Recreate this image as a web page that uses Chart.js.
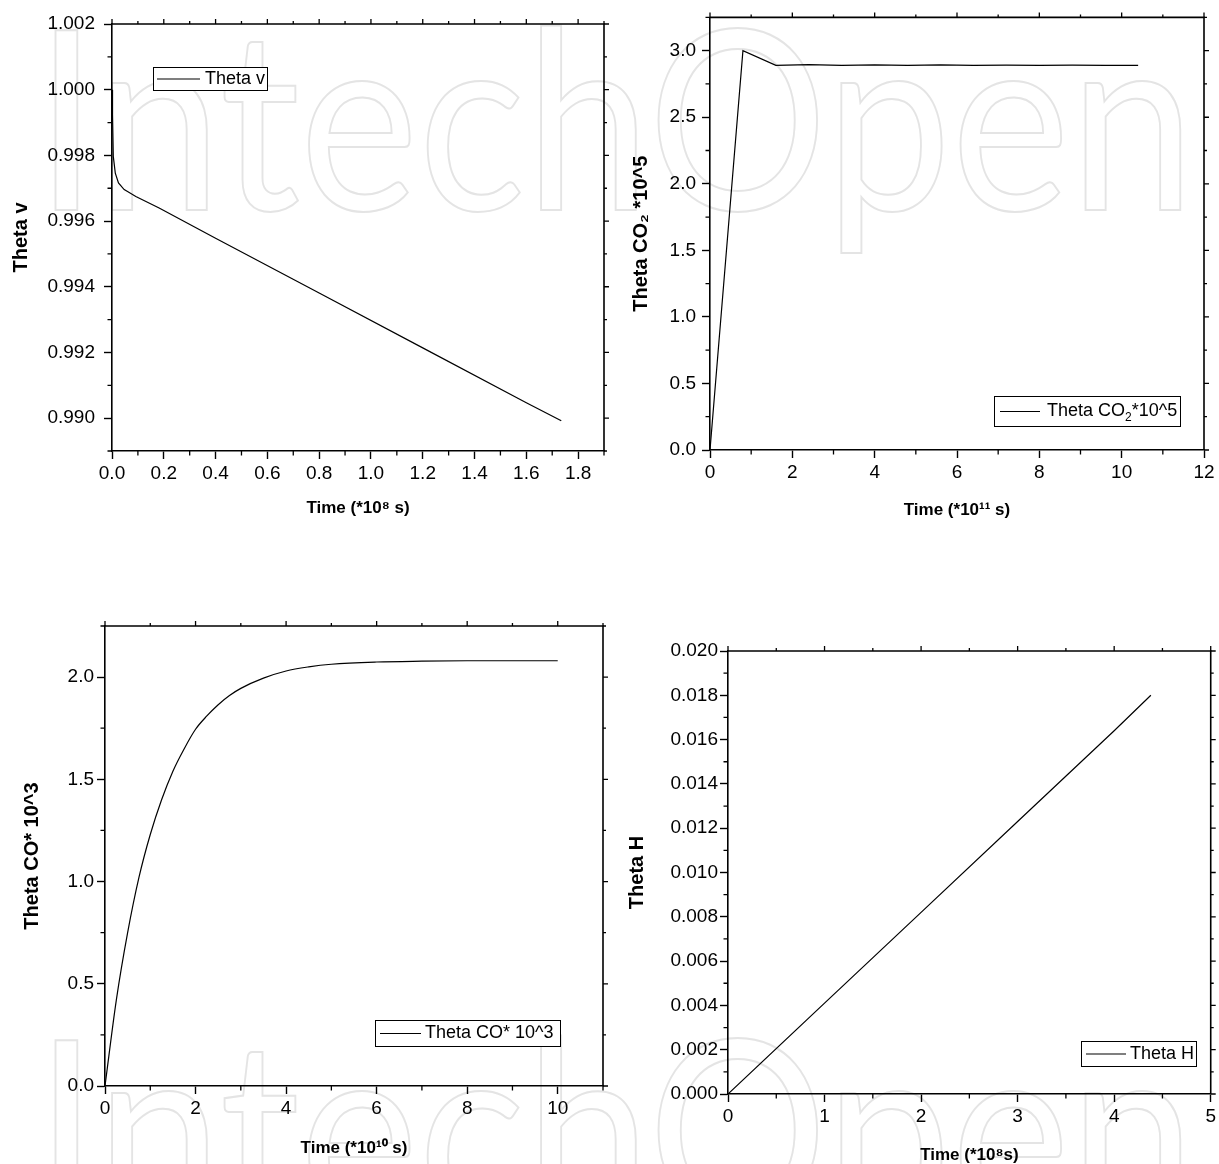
<!DOCTYPE html>
<html><head><meta charset="utf-8">
<script src="https://cdn.jsdelivr.net/npm/chart.js@4.4.1/dist/chart.umd.min.js"></script>
<style>
html,body{margin:0;padding:0;background:#fff;overflow:hidden;width:1219px;height:1164px;position:relative;}
.wrap{position:absolute;}
#wm{position:absolute;left:0;top:0;}
</style></head><body>
<svg id="wm" width="1219" height="1164" aria-hidden="true">
 <g fill="none" stroke="#e4e4e4" stroke-width="2" font-family="Lato, 'Open Sans', sans-serif" font-weight="400" font-size="250">
  <text x="35" y="210" textLength="1160" lengthAdjust="spacingAndGlyphs">IntechOpen</text>
  <text x="35" y="1220" textLength="1160" lengthAdjust="spacingAndGlyphs">IntechOpen</text>
 </g>
</svg>
<div class="wrap" style="left:0;top:0;width:620px;height:540px"><canvas id="c1"></canvas></div>
<div class="wrap" style="left:620px;top:0;width:599px;height:540px"><canvas id="c2"></canvas></div>
<div class="wrap" style="left:0;top:580px;width:620px;height:584px"><canvas id="c3"></canvas></div>
<div class="wrap" style="left:620px;top:600px;width:599px;height:580px"><canvas id="c4"></canvas></div>
<script>
// ---------- DATA ----------
// Panel 1: Theta v
const P1_X = [0, 0.002, 0.005, 0.0127, 0.025, 0.047, 0.06, 0.092, 0.182, 0.4, 0.8, 1.2, 1.6, 1.735];
const P1_Y = [1.0, 0.99924, 0.99797, 0.99746, 0.99716, 0.99696, 0.99690, 0.99675, 0.99640, 0.99548, 0.99381, 0.99214, 0.99047, 0.98992];
const P1_XTICKS = [0, 0.2, 0.4, 0.6, 0.8, 1.0, 1.2, 1.4, 1.6, 1.8];
const P1_XMINOR = [0.1, 0.3, 0.5, 0.7, 0.9, 1.1, 1.3, 1.5, 1.7, 1.9];
const P1_YTICKS = [0.990, 0.992, 0.994, 0.996, 0.998, 1.000, 1.002];
const P1_YMINOR = [0.989, 0.991, 0.993, 0.995, 0.997, 0.999, 1.001];

// Panel 2: Theta CO2 * 10^5
const P2_X = [0, 0.8, 1.6, 2.4, 3.2, 4.0, 4.8, 5.6, 6.4, 7.2, 8.0, 8.8, 9.6, 10.4];
const P2_Y = [0, 3.0, 2.89, 2.895, 2.89, 2.893, 2.89, 2.893, 2.89, 2.892, 2.89, 2.892, 2.89, 2.89];
const P2_XTICKS = [0, 2, 4, 6, 8, 10, 12];
const P2_XMINOR = [1, 3, 5, 7, 9, 11];
const P2_YTICKS = [0, 0.5, 1.0, 1.5, 2.0, 2.5, 3.0];
const P2_YMINOR = [0.25, 0.75, 1.25, 1.75, 2.25, 2.75, 3.25];

// Panel 3: Theta CO * 10^3
const P3_X = [0, 0.25, 0.5, 0.75, 1.0, 1.25, 1.5, 1.75, 2.0, 2.25, 2.5, 2.75, 3.0, 3.5, 4.0, 4.5, 5.0, 6.0, 7.0, 8.0, 9.0, 10.0];
const P3_Y = [0, 0.42, 0.75, 1.02, 1.23, 1.40, 1.54, 1.65, 1.745, 1.81, 1.865, 1.91, 1.945, 1.995, 2.03, 2.05, 2.063, 2.074, 2.078, 2.08, 2.08, 2.08];
const P3_XTICKS = [0, 2, 4, 6, 8, 10];
const P3_XMINOR = [1, 3, 5, 7, 9, 11];
const P3_YTICKS = [0, 0.5, 1.0, 1.5, 2.0];
const P3_YMINOR = [0.25, 0.75, 1.25, 1.75, 2.25];

// Panel 4: Theta H
const P4_X = [0, 1, 2, 3, 4, 4.38];
const P4_Y = [0, 0.0041, 0.0082, 0.0123, 0.0164, 0.018];
const P4_XTICKS = [0, 1, 2, 3, 4, 5];
const P4_XMINOR = [0.5, 1.5, 2.5, 3.5, 4.5];
const P4_YTICKS = [0, 0.002, 0.004, 0.006, 0.008, 0.010, 0.012, 0.014, 0.016, 0.018, 0.020];
const P4_YMINOR = [0.001, 0.003, 0.005, 0.007, 0.009, 0.011, 0.013, 0.015, 0.017, 0.019];

// ---------- RENDERING ----------
const TICK_FONT = { family: '"Liberation Sans", Arial, sans-serif', size: 19 };
const XT_FONT = { family: '"Liberation Sans", Arial, sans-serif', size: 17, weight: 'bold' };
const LEG_FONT = '18px "Liberation Sans", Arial, sans-serif';

function makeFrame(cfg) {
  return {
    id: 'frame',
    afterDraw(chart) {
      const { ctx, chartArea: a, scales: { x, y } } = chart;
      ctx.save();
      ctx.strokeStyle = '#000';
      ctx.lineWidth = 1.6;
      ctx.beginPath();
      ctx.moveTo(a.left, a.top); ctx.lineTo(a.right, a.top); ctx.lineTo(a.right, a.bottom);
      ctx.stroke();
      ctx.lineWidth = 1.3;
      ctx.beginPath();
      const seg = (x1, y1, x2, y2) => { ctx.moveTo(x1, y1); ctx.lineTo(x2, y2); };
      cfg.xMinor.forEach(v => { const p = x.getPixelForValue(v); seg(p, a.bottom, p, a.bottom + 4.5); seg(p, a.top, p, a.top - 3); });
      cfg.xMajor.forEach(v => { const p = x.getPixelForValue(v); seg(p, a.top, p, a.top - 5); });
      cfg.yMinor.forEach(v => { const p = y.getPixelForValue(v); seg(a.left, p, a.left - 4.5, p); seg(a.right, p, a.right + 3, p); });
      cfg.yMajor.forEach(v => { const p = y.getPixelForValue(v); seg(a.right, p, a.right + 5, p); });
      ctx.stroke();
      // legend
      const L = cfg.legend, ox = cfg.left, oy = cfg.top;
      const bx = L.box[0] - ox, by = L.box[1] - oy, bw = L.box[2] - L.box[0], bh = L.box[3] - L.box[1];
      ctx.fillStyle = '#fff';
      ctx.fillRect(bx, by, bw, bh);
      ctx.lineWidth = 1;
      ctx.strokeRect(bx + 0.5, by + 0.5, bw, bh);
      const cy = by + bh / 2 + 0.5;
      ctx.lineWidth = 1.2;
      ctx.beginPath(); ctx.moveTo(L.line[0] - ox, cy); ctx.lineTo(L.line[1] - ox, cy); ctx.stroke();
      ctx.fillStyle = '#000';
      ctx.textBaseline = 'middle';
      ctx.textAlign = 'left';
      let tx = L.textX - ox;
      L.parts.forEach(pt => {
        if (pt.sub) {
          ctx.font = '12px "Liberation Sans", Arial, sans-serif';
          ctx.fillText(pt.t, tx, cy + 6);
        } else {
          ctx.font = LEG_FONT;
          ctx.fillText(pt.t, tx, cy);
        }
        tx += ctx.measureText(pt.t).width;
      });
      ctx.restore();
    }
  };
}

function makeChart(id, cfg) {
  const ds = cfg.xs.map((xv, i) => ({ x: xv, y: cfg.ys[i] }));
  new Chart(document.getElementById(id), {
    type: 'line',
    data: { datasets: [{ data: ds, borderColor: '#000', borderWidth: 1.2, pointRadius: 0, fill: false,
      tension: 0, cubicInterpolationMode: cfg.smooth ? 'monotone' : 'default' }] },
    options: {
      responsive: true, maintainAspectRatio: false, animation: false, events: [],
      layout: { padding: { left: 0, top: cfg.padTop, right: cfg.padRight, bottom: 0 } },
      plugins: { legend: { display: false }, tooltip: { enabled: false } },
      scales: {
        x: {
          type: 'linear', min: cfg.xMin, max: cfg.xMax,
          afterBuildTicks: s => { s.ticks = cfg.xMajor.map(v => ({ value: v })); },
          afterFit: s => { s.height = cfg.xH; },
          ticks: { callback: v => Number(v).toFixed(cfg.xDec), color: '#000', font: TICK_FONT, padding: 3, maxRotation: 0, autoSkip: false },
          grid: { drawOnChartArea: false, drawTicks: true, tickLength: 8, tickWidth: 1.4, tickColor: '#000' },
          border: { display: true, color: '#000', width: 1.6 },
          title: { display: true, text: cfg.xTitle, color: '#000', font: XT_FONT, padding: { top: 0, bottom: cfg.xTitlePad } }
        },
        y: {
          type: 'linear', min: cfg.yMin, max: cfg.yMax,
          afterBuildTicks: s => { s.ticks = cfg.yMajor.map(v => ({ value: v })); },
          afterFit: s => { s.width = cfg.yW; },
          ticks: { callback: v => Number(v).toFixed(cfg.yDec), color: '#000', font: TICK_FONT, padding: cfg.yPad, autoSkip: false },
          grid: { drawOnChartArea: false, drawTicks: true, tickLength: 8, tickWidth: 1.4, tickColor: '#000' },
          border: { display: true, color: '#000', width: 1.6 },
          title: { display: true, text: cfg.yTitle, color: '#000',
            font: { family: '"Liberation Sans", Arial, sans-serif', size: 20, weight: 'bold' },
            padding: { top: cfg.yTitlePad, bottom: 0 } }
        }
      }
    },
    plugins: [makeFrame(cfg)]
  });
}

makeChart('c1', {
  left: 0, top: 0, xs: P1_X, ys: P1_Y,
  xMin: 0, xMax: 1.9, yMin: 0.989, yMax: 1.002,
  xMajor: P1_XTICKS, xMinor: P1_XMINOR, yMajor: P1_YTICKS, yMinor: P1_YMINOR,
  xDec: 1, yDec: 3, padTop: 24, padRight: 16, xH: 89, yW: 112, yPad: 9,
  xTitle: 'Time (*10\u2078 s)', xTitlePad: 21, yTitle: 'Theta v', yTitlePad: 9,
  legend: { box: [153, 67, 267, 90], line: [157, 200], textX: 205, parts: [{ t: 'Theta v' }] }
});
makeChart('c2', {
  left: 620, top: 0, xs: P2_X, ys: P2_Y,
  xMin: 0, xMax: 12, yMin: 0, yMax: 3.25,
  xMajor: P2_XTICKS, xMinor: P2_XMINOR, yMajor: P2_YTICKS, yMinor: P2_YMINOR,
  xDec: 0, yDec: 1, padTop: 15, padRight: 15, xH: 90, yW: 90, yPad: 6,
  xTitle: 'Time (*10\u00B9\u00B9 s)', xTitlePad: 19, yTitle: 'Theta CO\u2082 *10^5', yTitlePad: 9,
  legend: { box: [994, 396, 1180, 426], line: [1000, 1040], textX: 1047, parts: [{ t: 'Theta CO' }, { t: '2', sub: true }, { t: '*10^5' }] }
});
makeChart('c3', {
  left: 0, top: 580, xs: P3_X, ys: P3_Y, smooth: true,
  xMin: 0, xMax: 11, yMin: 0, yMax: 2.25,
  xMajor: P3_XTICKS, xMinor: P3_XMINOR, yMajor: P3_YTICKS, yMinor: P3_YMINOR,
  xDec: 0, yDec: 1, padTop: 46, padRight: 17, xH: 78, yW: 105, yPad: 3,
  xTitle: 'Time (*10\u00B9\u2070 s)', xTitlePad: 5, yTitle: 'Theta CO* 10^3', yTitlePad: 20,
  legend: { box: [375, 1020, 560, 1046], line: [380, 421], textX: 425, parts: [{ t: 'Theta CO* 10^3' }] }
});
makeChart('c4', {
  left: 620, top: 600, xs: P4_X, ys: P4_Y,
  xMin: 0, xMax: 5, yMin: 0, yMax: 0.020,
  xMajor: P4_XTICKS, xMinor: P4_XMINOR, yMajor: P4_YTICKS, yMinor: P4_YMINOR,
  xDec: 0, yDec: 3, padTop: 51, padRight: 8, xH: 86, yW: 108, yPad: 2,
  xTitle: 'Time (*10\u2078s)', xTitlePad: 14, yTitle: 'Theta H', yTitlePad: 5,
  legend: { box: [1081, 1041, 1196, 1066], line: [1086, 1126], textX: 1130, parts: [{ t: 'Theta H' }] }
});
</script>
</body></html>
